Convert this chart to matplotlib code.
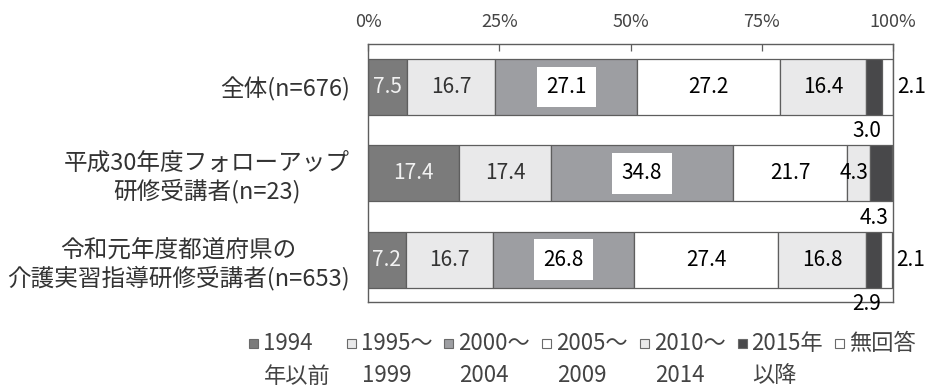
import matplotlib
matplotlib.use('Agg')
import matplotlib.pyplot as plt
from matplotlib.patches import Rectangle
import numpy as np

plt.rcParams['font.family'] = ['Noto Sans CJK JP', 'DejaVu Sans']

categories = ['全体(n=676)',
              '平成30年度フォローアップ\n研修受講者(n=23)',
              '令和元年度都道府県の\n介護実習指導研修受講者(n=653)']
legend_line1 = ['1994', '1995～', '2000～', '2005～', '2010～', '2015年', '無回答']
legend_line2 = ['年以前', '1999', '2004', '2009', '2014', '以降', '']

s1994 = [7.5, 17.4, 7.2]
s1995 = [16.7, 17.4, 16.7]
s2000 = [27.1, 34.8, 26.8]
s2005 = [27.2, 21.7, 27.4]
s2010 = [16.4, 4.3, 16.8]
s2015 = [3.0, 4.3, 2.9]
s_na = [2.1, 0.0, 2.1]
series = [s1994, s1995, s2000, s2005, s2010, s2015, s_na]

xticks = [0, 25, 50, 75, 100]
xticklabels = ['0%', '25%', '50%', '75%', '100%']

colors = ['#7b7b7b', '#e9e9ea', '#9d9ea2', '#ffffff', '#e9e9ea', '#48484a', '#ffffff']
text_colors = ['#f2f2f2', '#333333', '#000000', '#000000', '#000000', '#000000', '#000000']
edge = '#5e5e5e'
gray_text = '#444444'

W, H = 925, 390
fig = plt.figure(figsize=(W / 100, H / 100), dpi=100)
ax = fig.add_axes([368 / W, 1 - 302 / H, (893 - 368) / W, (302 - 44.3) / H])

y = np.arange(len(categories))
bar_h = 0.65
num_fs = 15
left = np.zeros(len(categories))
for k, vals in enumerate(series):
    vals = np.array(vals)
    ax.barh(y, vals, left=left, height=bar_h, color=colors[k],
            edgecolor=edge, linewidth=0.9, zorder=2)
    for i, v in enumerate(vals):
        if v <= 0:
            continue
        cx = left[i] + v / 2
        if k == 6:
            ax.text(left[i] + v + 0.8, y[i], f'{v:.1f}', ha='left', va='center',
                    fontsize=num_fs, color='black')
        elif k == 5:
            ax.text(cx - 1.3, y[i] + bar_h / 2 + 0.19, f'{v:.1f}', ha='center',
                    va='center', fontsize=num_fs, color='black', zorder=4)
        elif k == 2:
            ax.text(cx, y[i], f'{v:.1f}', ha='center', va='center', fontsize=num_fs,
                    color='black', zorder=4,
                    bbox=dict(boxstyle='square,pad=0.45', fc='white', ec='none'))
        elif v < 6:
            ax.text(left[i] + v - 0.2, y[i], f'{v:.1f}', ha='right', va='center',
                    fontsize=num_fs, color=text_colors[k], zorder=4)
        else:
            ax.text(cx, y[i], f'{v:.1f}', ha='center', va='center', fontsize=num_fs,
                    color=text_colors[k], zorder=4)
    left = left + vals

ax.set_xlim(0, 100)
ax.set_ylim(len(categories) - 0.51, -0.495)
ax.set_yticks(y)
ax.set_yticklabels(categories, fontsize=17, multialignment='center', color='#333333')
ax.tick_params(axis='y', length=0, pad=13)
ax.xaxis.tick_top()
ax.set_xticks(xticks)
ax.set_xticklabels(xticklabels, fontsize=13, color=gray_text)
ax.tick_params(axis='x', direction='in', length=5, width=0.9, color=edge, pad=9.5)
for sp in ax.spines.values():
    sp.set_color(edge)
    sp.set_linewidth(1.0)

# legend drawn as a row of swatches with two-line labels
step = 97.7
for i in range(len(legend_line1)):
    mx = 249 + i * step
    fig.add_artist(Rectangle((mx / W, 1 - 348 / H), 9 / W, 9 / H,
                             transform=fig.transFigure, facecolor=colors[i],
                             edgecolor='#6a6a6a', linewidth=0.8))
    fig.text((mx + 14) / W, 1 - 343 / H, legend_line1[i], ha='left', va='center',
             fontsize=16, color=gray_text)
    if legend_line2[i]:
        fig.text((mx + 15) / W, 1 - 376 / H, legend_line2[i], ha='left', va='center',
                 fontsize=16, color=gray_text)

fig.savefig('out.png', dpi=100)
